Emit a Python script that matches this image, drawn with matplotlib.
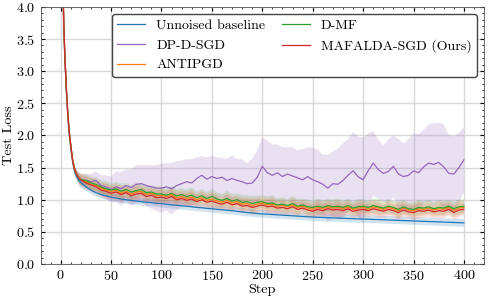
import numpy as np
import matplotlib.pyplot as plt
from matplotlib.ticker import AutoMinorLocator, MultipleLocator

plt.rcParams['font.family'] = 'cmr10'
plt.rcParams['mathtext.fontset'] = 'cm'
plt.rcParams['axes.formatter.use_mathtext'] = True
plt.rcParams['font.size'] = 10.2

steps = [0, 1, 2, 3, 4, 5, 6, 7, 8, 9, 10, 12, 14, 16, 18, 20] + list(range(25, 401, 5))

early = [7.0, 5.6, 4.5, 3.8, 3.3, 2.95, 2.62, 2.36, 2.15, 1.98, 1.85, 1.6, 1.46, 1.39, 1.34, 1.31]

baseline = [7.0, 5.55, 4.45, 3.75, 3.25, 2.9, 2.58, 2.32, 2.1, 1.94, 1.8, 1.57, 1.43, 1.36, 1.3, 1.27,
            1.2, 1.15, 1.11, 1.08, 1.06, 1.04, 1.025, 1.01, 1.0, 0.99, 0.98, 0.97, 0.96, 0.955, 0.945, 0.94,
            0.93, 0.92, 0.915, 0.905, 0.9, 0.89, 0.88, 0.875, 0.865, 0.86,
            0.85, 0.845, 0.835, 0.83, 0.82, 0.81, 0.8, 0.795, 0.785, 0.78,
            0.775, 0.77, 0.765, 0.76, 0.755, 0.75, 0.745, 0.74, 0.735, 0.73,
            0.727, 0.724, 0.72, 0.717, 0.714, 0.711, 0.708, 0.705, 0.702, 0.7,
            0.697, 0.694, 0.691, 0.688, 0.685, 0.682, 0.679, 0.676, 0.673, 0.67,
            0.667, 0.664, 0.661, 0.658, 0.655, 0.652, 0.649, 0.646, 0.643, 0.64]

dp_dsgd = early + [
    1.3, 1.28, 1.3, 1.22, 1.2, 1.16, 1.2, 1.17, 1.22, 1.19, 1.24, 1.25, 1.22, 1.2, 1.18, 1.18,
    1.2, 1.17, 1.22, 1.25, 1.28, 1.26, 1.33, 1.38, 1.32, 1.36,
    1.33, 1.35, 1.3, 1.33, 1.3, 1.28, 1.25, 1.26, 1.35, 1.52,
    1.42, 1.38, 1.42, 1.36, 1.4, 1.37, 1.34, 1.31, 1.36, 1.31,
    1.28, 1.24, 1.18, 1.25, 1.24, 1.3, 1.38, 1.45, 1.36, 1.31,
    1.45, 1.57, 1.47, 1.41, 1.44, 1.52, 1.4, 1.36, 1.38, 1.45,
    1.42, 1.51, 1.57, 1.55, 1.58, 1.51, 1.41, 1.4, 1.5, 1.62]

antipgd = early + [
    1.28, 1.24, 1.22, 1.18, 1.15, 1.13, 1.15, 1.1, 1.13, 1.09, 1.12, 1.13, 1.08, 1.1, 1.06, 1.07,
    1.05, 1.08, 1.03, 1.05, 1.02, 1.04, 1.0, 1.03, 0.99, 1.01,
    0.98, 0.96, 0.99, 0.95, 0.97, 0.93, 0.94, 0.91, 0.93, 0.95,
    0.92, 0.93, 0.9, 0.91, 0.89, 0.92, 0.88, 0.9, 0.87, 0.85,
    0.88, 0.86, 0.89, 0.87, 0.88, 0.86, 0.89, 0.85, 0.87, 0.88,
    0.86, 0.89, 0.87, 0.85, 0.88, 0.86, 0.83, 0.87, 0.84, 0.83,
    0.86, 0.85, 0.87, 0.84, 0.86, 0.85, 0.88, 0.83, 0.87, 0.88]

d_mf = early + [
    1.3, 1.26, 1.24, 1.2, 1.17, 1.15, 1.17, 1.13, 1.16, 1.12, 1.14, 1.16, 1.11, 1.12, 1.09, 1.09,
    1.07, 1.1, 1.06, 1.08, 1.05, 1.07, 1.03, 1.06, 1.02, 1.05,
    1.01, 0.99, 1.02, 0.98, 1.0, 0.96, 0.97, 0.94, 0.96, 0.97,
    0.94, 0.95, 0.92, 0.93, 0.91, 0.94, 0.9, 0.92, 0.89, 0.88,
    0.9, 0.88, 0.91, 0.89, 0.9, 0.88, 0.91, 0.87, 0.89, 0.9,
    0.88, 0.91, 0.89, 0.87, 0.9, 0.88, 0.85, 0.89, 0.86, 0.85,
    0.88, 0.87, 0.89, 0.86, 0.88, 0.87, 0.9, 0.86, 0.89, 0.9]

mafalda = early + [
    1.26, 1.23, 1.2, 1.15, 1.13, 1.1, 1.12, 1.08, 1.11, 1.06, 1.09, 1.1, 1.05, 1.07, 1.03, 1.04,
    1.02, 1.05, 1.0, 1.02, 0.99, 1.01, 0.97, 1.0, 0.96, 0.98,
    0.95, 0.93, 0.96, 0.92, 0.94, 0.9, 0.91, 0.88, 0.9, 0.92,
    0.89, 0.9, 0.87, 0.88, 0.86, 0.89, 0.85, 0.87, 0.84, 0.82,
    0.85, 0.83, 0.86, 0.84, 0.85, 0.83, 0.86, 0.82, 0.84, 0.85,
    0.83, 0.86, 0.84, 0.82, 0.85, 0.83, 0.8, 0.84, 0.81, 0.8,
    0.83, 0.82, 0.84, 0.81, 0.83, 0.82, 0.85, 0.8, 0.84, 0.85]

# standard deviations (shaded bands)
std_early = [0.05] * 11 + [0.05, 0.06, 0.07, 0.08, 0.09]
std_baseline = std_early + [0.06] * 76
std_dp = std_early + [
    0.1, 0.12, 0.14, 0.16, 0.18, 0.2, 0.24, 0.26, 0.25, 0.28, 0.3, 0.29, 0.32, 0.34, 0.36, 0.38,
    0.37, 0.4, 0.38, 0.36, 0.35, 0.37, 0.33, 0.3, 0.34, 0.32,
    0.33, 0.3, 0.34, 0.36, 0.33, 0.35, 0.32, 0.38, 0.42, 0.45,
    0.5, 0.48, 0.44, 0.46, 0.42, 0.45, 0.43, 0.48, 0.46, 0.5,
    0.5, 0.46, 0.52, 0.5, 0.55, 0.58, 0.56, 0.6, 0.62, 0.66,
    0.58, 0.5, 0.46, 0.44, 0.5, 0.48, 0.55, 0.52, 0.56, 0.58,
    0.6, 0.58, 0.6, 0.64, 0.62, 0.66, 0.6, 0.58, 0.55, 0.5]
std_other = std_early + [
    0.1, 0.1, 0.11, 0.1, 0.12, 0.1, 0.11, 0.12, 0.1, 0.11, 0.12, 0.1, 0.11, 0.1, 0.12, 0.11,
    0.1, 0.12, 0.11, 0.1, 0.11, 0.12, 0.1, 0.11, 0.1, 0.12,
    0.11, 0.1, 0.12, 0.11, 0.1, 0.11, 0.1, 0.12, 0.11, 0.1,
    0.11, 0.12, 0.1, 0.11, 0.1, 0.12, 0.11, 0.1, 0.11, 0.1,
    0.12, 0.11, 0.1, 0.11, 0.12, 0.1, 0.11, 0.1, 0.12, 0.11,
    0.1, 0.11, 0.12, 0.1, 0.11, 0.1, 0.12, 0.11, 0.1, 0.11,
    0.12, 0.1, 0.11, 0.1, 0.12, 0.11, 0.1, 0.11, 0.12, 0.1]

series = [
    ('Unnoised baseline', baseline, std_baseline, '#1f77b4', 0.2),
    ('DP-D-SGD', dp_dsgd, std_dp, '#9467bd', 0.2),
    ('ANTIPGD', antipgd, std_other, '#ff7f0e', 0.15),
    ('D-MF', d_mf, std_other, '#2ca02c', 0.15),
    ('MAFALDA-SGD (Ours)', mafalda, std_other, '#d62728', 0.13),
]

fig = plt.figure(figsize=(4.88, 3.0), dpi=100)
ax = fig.add_axes([0.083, 0.12, 0.909, 0.857])

x = np.array(steps)
for label, mean, std, color, a in series:
    mean = np.array(mean)
    std = np.array(std)
    ax.fill_between(x, mean - std, mean + std, color=color, alpha=a, linewidth=0)
for label, mean, std, color, a in series:
    ax.plot(x, mean, color=color, lw=0.9, label=label)

ax.set_xlim(-20, 420)
ax.set_ylim(0, 4)
ax.xaxis.set_major_locator(MultipleLocator(50))
ax.yaxis.set_major_locator(MultipleLocator(0.5))
ax.xaxis.set_minor_locator(AutoMinorLocator(5))
ax.yaxis.set_minor_locator(AutoMinorLocator(5))
ax.tick_params(which='both', direction='in', top=True, right=True)
ax.tick_params(which='major', length=3)
ax.tick_params(which='minor', length=1.5)
ax.grid(True, color='#d9d9d9', lw=1.0)
ax.set_axisbelow(True)
for s in ax.spines.values():
    s.set_linewidth(0.6)
    s.set_color('#555555')

ax.set_xlabel('Step', labelpad=1)
ax.set_ylabel('Test Loss', labelpad=1)

leg = ax.legend(loc='upper right', ncol=2, frameon=True, fancybox=True, framealpha=1,
                edgecolor='#444444', columnspacing=1.2, fontsize=10)
leg.get_frame().set_linewidth(1.0)

fig.savefig('out.png', dpi=100)
